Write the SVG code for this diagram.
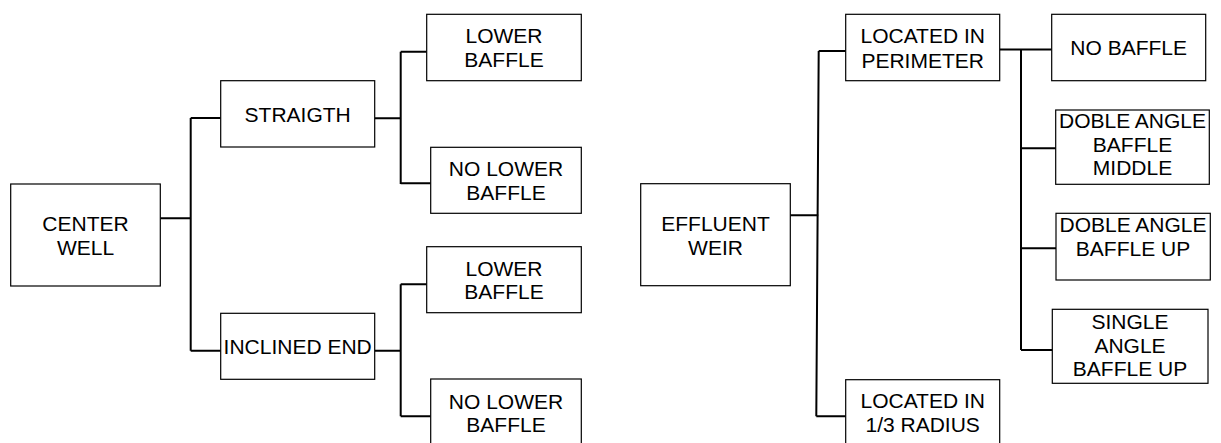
<svg xmlns="http://www.w3.org/2000/svg" width="1221" height="443" viewBox="0 0 1221 443">
<style>
.box{fill:#fff;stroke:#000;stroke-width:1.2}
.lbl{font-family:"Liberation Sans",Arial,sans-serif;font-size:21px;fill:#000;text-anchor:middle}
.con{fill:none;stroke:#000;stroke-width:2}
</style>
<rect width="1221" height="443" fill="#fff"/>
<g id="connectors">
<path class="con" d="M160.3 218.3H190.7M190.7 118H220.7M190.7 118V350.7M190.7 350.7H220.7"/>
<path class="con" d="M374.7 118.3H400.7M400.7 51.7V184M400.7 51.7H426.7M400.7 183.3H430.7"/>
<path class="con" d="M374.7 350.7H400.7M400.7 284.3V416.3M400.7 284.3H426.7M400.7 416.3H430.7"/>
<path class="con" d="M790.3 215.3H818.7M818.7 51L816.3 416.3M818.7 51H845.7M816.3 416.3H845.7"/>
<path class="con" d="M999.7 49.5H1051.7M1021 49.5V350M1021 148.3H1055.7M1021 248.3H1056M1021 350H1052.3"/>
</g>
<g id="center-well"><rect class="box" x="10.7" y="184" width="149.6" height="102"/><text class="lbl" x="85.5" y="231">CENTER</text><text class="lbl" x="85.5" y="255.3">WELL</text></g>
<g id="straigth"><rect class="box" x="220.7" y="80.7" width="154" height="66.3"/><text class="lbl" x="297.7" y="122.3">STRAIGTH</text></g>
<g id="inclined-end"><rect class="box" x="220.7" y="313.3" width="154" height="66"/><text class="lbl" x="297.7" y="354">INCLINED END</text></g>
<g id="lower-baffle-1"><rect class="box" x="426.7" y="14.3" width="154.6" height="66.4"/><text class="lbl" x="504" y="42.7">LOWER</text><text class="lbl" x="504" y="66.7">BAFFLE</text></g>
<g id="no-lower-baffle-1"><rect class="box" x="430.7" y="147.3" width="150.6" height="66"/><text class="lbl" x="506" y="176">NO LOWER</text><text class="lbl" x="506" y="200">BAFFLE</text></g>
<g id="lower-baffle-2"><rect class="box" x="426.7" y="246.7" width="154.6" height="66"/><text class="lbl" x="504" y="275.7">LOWER</text><text class="lbl" x="504" y="299.3">BAFFLE</text></g>
<g id="no-lower-baffle-2"><rect class="box" x="430.7" y="379" width="150.6" height="66"/><text class="lbl" x="506" y="408.7">NO LOWER</text><text class="lbl" x="506" y="432.3">BAFFLE</text></g>
<g id="effluent-weir"><rect class="box" x="640.7" y="183.7" width="149.6" height="102"/><text class="lbl" x="715.5" y="231">EFFLUENT</text><text class="lbl" x="715.5" y="255">WEIR</text></g>
<g id="located-perimeter"><rect class="box" x="845.7" y="14.3" width="154" height="66.4"/><text class="lbl" x="922.7" y="43.3">LOCATED IN</text><text class="lbl" x="922.7" y="68.3">PERIMETER</text></g>
<g id="located-radius"><rect class="box" x="845.7" y="379.7" width="154" height="66.3"/><text class="lbl" x="922.7" y="408.3">LOCATED IN</text><text class="lbl" x="922.7" y="432.3">1/3 RADIUS</text></g>
<g id="no-baffle"><rect class="box" x="1051.7" y="14.3" width="154" height="66.4"/><text class="lbl" x="1128.7" y="55">NO BAFFLE</text></g>
<g id="doble-middle"><rect class="box" x="1055.7" y="110" width="153.6" height="74.3"/><text class="lbl" x="1132.5" y="128.3">DOBLE ANGLE</text><text class="lbl" x="1132.5" y="151.7">BAFFLE</text><text class="lbl" x="1132.5" y="175">MIDDLE</text></g>
<g id="doble-up"><rect class="box" x="1056" y="213.3" width="154.3" height="66.7"/><text class="lbl" x="1133" y="232.3">DOBLE ANGLE</text><text class="lbl" x="1133" y="255.7">BAFFLE UP</text></g>
<g id="single-up"><rect class="box" x="1052.3" y="309.3" width="155.7" height="74"/><text class="lbl" x="1130" y="329">SINGLE</text><text class="lbl" x="1130" y="352.7">ANGLE</text><text class="lbl" x="1130" y="376">BAFFLE UP</text></g>
</svg>
